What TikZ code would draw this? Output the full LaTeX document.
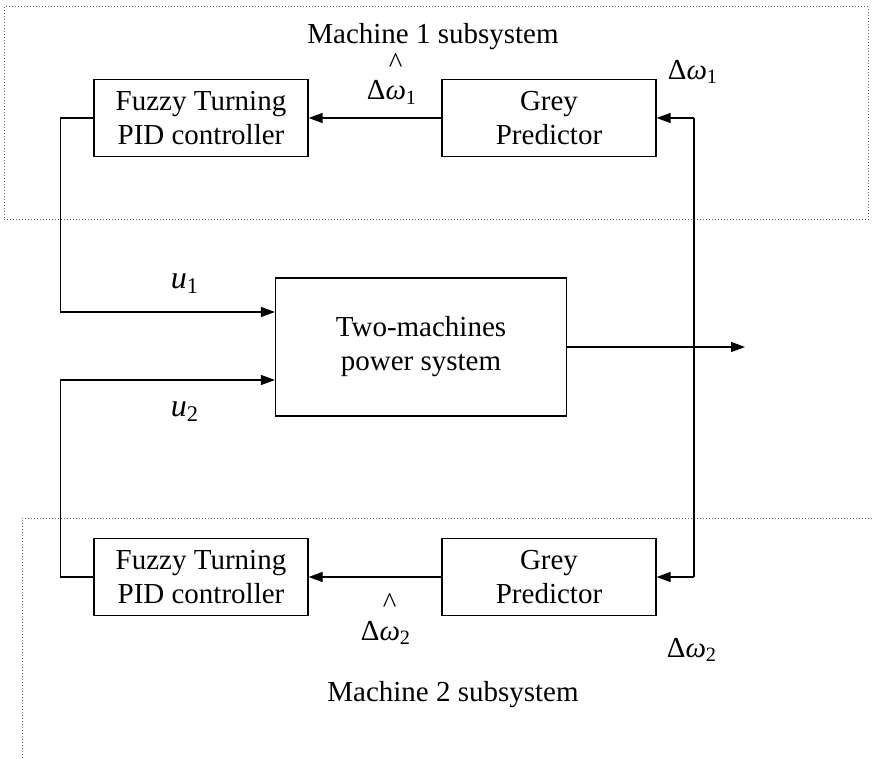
\documentclass[tikz,border=0pt]{standalone}
\usepackage{fontspec}
\setmainfont{Liberation Serif}
\usetikzlibrary{arrows.meta, positioning, calc}
\tikzstyle{block}  = [rectangle, draw=black, line width=0.6pt, minimum width=107pt,
                      minimum height=38.5pt, text centered, align=center]
\tikzstyle{arrow}  = [line width=0.6pt, -{Triangle[length=7pt,width=5pt]}]
\tikzstyle{line}   = [line width=0.6pt]
\tikzstyle{region} = [densely dotted, draw=black!60, line width=0.5pt]
\newcommand{\dw}[1]{Δ\textit{ω}\textsubscript{#1}}
\newcommand{\dwhat}[1]{Δ\shortstack{\textasciicircum\\[4pt]\textit{ω}}\textsubscript{#1}}

\begin{document}
\begin{tikzpicture}[x=0.5pt, y=-0.5pt, every node/.style={font=\fontsize{14.5}{17}\selectfont}]
  \useasboundingbox (0,0) rectangle (872,759);

  % Subsystem regions
  \draw[region] (4,7) rectangle (868,220);
  \draw[region] (872,518) -- (22,518) -- (22,759);
  \node (m1) at (433,37) {Machine 1 subsystem};
  \node (m2) at (453,695) {Machine 2 subsystem};

  % Blocks
  \node (fuzzy1) [block] at (201,118) {Fuzzy Turning\\PID controller};
  \node (grey1)  [block] at (549,118) {Grey\\Predictor};
  \node (power)  [block, minimum width=145.5pt, minimum height=69pt] at (421,347)
                 {Two-machines\\power system};
  \node (fuzzy2) [block] at (201,577) {Fuzzy Turning\\PID controller};
  \node (grey2)  [block] at (549,577) {Grey\\Predictor};

  % Labels
  \node (u1)  [font=\fontsize{16}{18}\selectfont] at (185,284) {\textit{u}\textsubscript{1}};
  \node (u2)  [font=\fontsize{16}{18}\selectfont] at (185,412) {\textit{u}\textsubscript{2}};
  \node (w1)  at (693,72)  {\dw{1}};
  \node (w2)  at (692,650) {\dw{2}};
  \node (wh1) [anchor=base] at (392,100) {\dwhat{1}};
  \node (wh2) [anchor=base] at (386,640) {\dwhat{2}};

  \coordinate (out) at (745,347);
  \coordinate (fb1) at (694,118);
  \coordinate (fb2) at (694,577);

  % Predictor to controller
  \draw[arrow] (grey1) -- (fuzzy1);
  \draw[arrow] (grey2) -- (fuzzy2);

  % Control inputs
  \draw[arrow] (fuzzy1.west) -- ++(-33,0) |- ($(power.west)+(0,-35)$);
  \draw[arrow] (fuzzy2.west) -- ++(-33,0) |- ($(power.west)+(0,33)$);

  % Output and feedback
  \draw[arrow] (power) -- (out);
  \draw[line] (fb1) -- (fb2);
  \draw[arrow] (fb1) -- (grey1);
  \draw[arrow] (fb2) -- (grey2);

\end{tikzpicture}
\end{document}
